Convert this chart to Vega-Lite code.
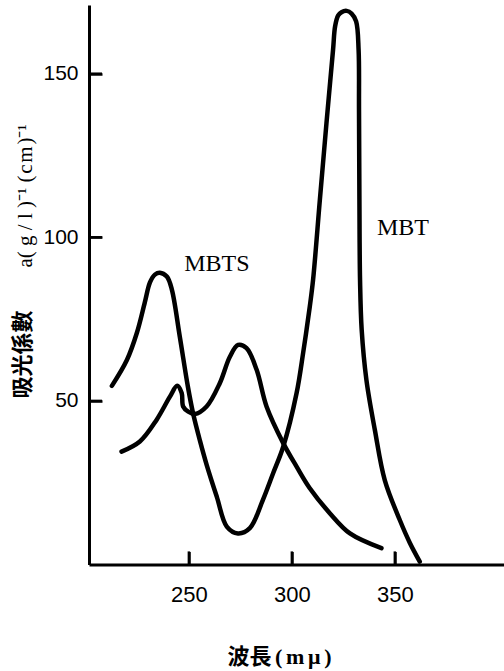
{
  "$schema": "https://vega.github.io/schema/vega-lite/v6.json",
  "autosize": {"type": "none"},
  "padding": {"left": 89, "top": 5, "right": 0, "bottom": 106.5},
  "width": 415,
  "height": 559.5,
  "config": {"view": {"stroke": "transparent"}},
  "resolve": {"axis": {"x": "independent", "y": "independent"}},
  "layer": [
    {
      "data": {"values": [
        {"curve": "MBT", "wl": 212.6, "a": 54.6},
        {"curve": "MBT", "wl": 219.9, "a": 62.5},
        {"curve": "MBT", "wl": 224.8, "a": 70.9},
        {"curve": "MBT", "wl": 228.6, "a": 80.1},
        {"curve": "MBT", "wl": 231.1, "a": 86.2},
        {"curve": "MBT", "wl": 233.5, "a": 88.6},
        {"curve": "MBT", "wl": 235.9, "a": 89.2},
        {"curve": "MBT", "wl": 239.3, "a": 88.0},
        {"curve": "MBT", "wl": 241.7, "a": 84.1},
        {"curve": "MBT", "wl": 245.6, "a": 69.6},
        {"curve": "MBT", "wl": 249.5, "a": 54.4},
        {"curve": "MBT", "wl": 252.0, "a": 46.3},
        {"curve": "MBT", "wl": 255.3, "a": 38.0},
        {"curve": "MBT", "wl": 258.7, "a": 30.3},
        {"curve": "MBT", "wl": 263.6, "a": 20.6},
        {"curve": "MBT", "wl": 268.4, "a": 11.6},
        {"curve": "MBT", "wl": 273.8, "a": 9.5},
        {"curve": "MBT", "wl": 279.6, "a": 11.1},
        {"curve": "MBT", "wl": 285.9, "a": 19.7},
        {"curve": "MBT", "wl": 290.9, "a": 27.9},
        {"curve": "MBT", "wl": 295.8, "a": 36.0},
        {"curve": "MBT", "wl": 302.3, "a": 52.4},
        {"curve": "MBT", "wl": 305.5, "a": 64.8},
        {"curve": "MBT", "wl": 308.7, "a": 78.8},
        {"curve": "MBT", "wl": 310.3, "a": 87.0},
        {"curve": "MBT", "wl": 313.6, "a": 111.5},
        {"curve": "MBT", "wl": 316.8, "a": 134.9},
        {"curve": "MBT", "wl": 320.0, "a": 157.3},
        {"curve": "MBT", "wl": 321.0, "a": 164.5},
        {"curve": "MBT", "wl": 322.5, "a": 167.8},
        {"curve": "MBT", "wl": 324.1, "a": 168.8},
        {"curve": "MBT", "wl": 326.6, "a": 169.2},
        {"curve": "MBT", "wl": 329.0, "a": 168.4},
        {"curve": "MBT", "wl": 331.2, "a": 166.0},
        {"curve": "MBT", "wl": 332.4, "a": 157.3},
        {"curve": "MBT", "wl": 332.6, "a": 139.0},
        {"curve": "MBT", "wl": 332.8, "a": 111.5},
        {"curve": "MBT", "wl": 333.1, "a": 87.0},
        {"curve": "MBT", "wl": 333.9, "a": 71.7},
        {"curve": "MBT", "wl": 336.2, "a": 56.4},
        {"curve": "MBT", "wl": 340.3, "a": 41.1},
        {"curve": "MBT", "wl": 345.1, "a": 25.8},
        {"curve": "MBT", "wl": 352.4, "a": 13.6},
        {"curve": "MBT", "wl": 357.3, "a": 6.6},
        {"curve": "MBT", "wl": 362.1, "a": 0.9},
        {"curve": "MBTS", "wl": 217.3, "a": 34.5},
        {"curve": "MBTS", "wl": 226.2, "a": 37.6},
        {"curve": "MBTS", "wl": 234.3, "a": 44.2},
        {"curve": "MBTS", "wl": 240.8, "a": 51.3},
        {"curve": "MBTS", "wl": 244.3, "a": 54.6},
        {"curve": "MBTS", "wl": 246.5, "a": 52.4},
        {"curve": "MBTS", "wl": 247.2, "a": 48.3},
        {"curve": "MBTS", "wl": 249.7, "a": 46.7},
        {"curve": "MBTS", "wl": 252.9, "a": 46.0},
        {"curve": "MBTS", "wl": 258.6, "a": 48.3},
        {"curve": "MBTS", "wl": 265.0, "a": 55.4},
        {"curve": "MBTS", "wl": 269.9, "a": 63.5},
        {"curve": "MBTS", "wl": 273.9, "a": 67.1},
        {"curve": "MBTS", "wl": 278.0, "a": 66.1},
        {"curve": "MBTS", "wl": 282.9, "a": 59.5},
        {"curve": "MBTS", "wl": 287.7, "a": 48.3},
        {"curve": "MBTS", "wl": 295.8, "a": 37.1},
        {"curve": "MBTS", "wl": 302.3, "a": 29.9},
        {"curve": "MBTS", "wl": 308.7, "a": 23.3},
        {"curve": "MBTS", "wl": 318.4, "a": 15.7},
        {"curve": "MBTS", "wl": 328.2, "a": 9.5},
        {"curve": "MBTS", "wl": 343.5, "a": 5.0}
      ]},
      "mark": {"type": "line", "interpolate": "catmull-rom", "color": "black", "strokeWidth": 4.5, "strokeCap": "round", "strokeJoin": "round"},
      "encoding": {
        "x": {
          "field": "wl", "type": "quantitative",
          "scale": {"domain": [201.5, 403], "nice": false, "zero": false},
          "axis": {
            "orient": "bottom",
            "values": [250, 300, 350],
            "grid": false, "ticks": true,
            "domainColor": "black", "domainWidth": 3,
            "tickColor": "black", "tickWidth": 2.5, "tickSize": -13,
            "labelFont": "Liberation Sans", "labelFontSize": 22, "labelColor": "black",
            "labelPadding": 33, "labelBaseline": "top", "labelFlush": false,
            "title": "波長\u2006(\u2006m\u2006μ\u2006)",
            "titleFont": "Liberation Serif, Noto Sans CJK TC",
            "titleFontSize": 22, "titleFontWeight": "bold", "titleColor": "black",
            "titleX": 190, "titleY": 91.5, "titleAlign": "center", "titleBaseline": "middle", "titleAnchor": null
          }
        },
        "y": {
          "field": "a", "type": "quantitative",
          "scale": {"domain": [0, 171], "nice": false, "zero": true},
          "axis": {
            "orient": "left",
            "values": [50, 100, 150],
            "grid": false, "ticks": true,
            "domainColor": "black", "domainWidth": 3,
            "tickColor": "black", "tickWidth": 2.5, "tickSize": -13,
            "labelFont": "Liberation Sans",
            "labelFontSize": 21, "labelColor": "black",
            "labelPadding": 24, "labelFlush": false,
            "title": "吸光係數",
            "titleFont": "Noto Sans CJK TC",
            "titleFontSize": 22, "titleFontWeight": "bold", "titleColor": "black",
            "titleAngle": -90,
            "titleX": -67, "titleY": 393, "titleAlign": "left", "titleBaseline": "middle", "titleAnchor": null
          }
        },
        "detail": {"field": "curve", "type": "nominal"}
      }
    },
    {
      "data": {"values": [
        {"text": "MBTS", "wl": 263.6, "a": 91.9},
        {"text": "MBT", "wl": 353.9, "a": 102.9}
      ]},
      "mark": {"type": "text", "font": "Liberation Serif", "fontSize": 24, "color": "black", "align": "center", "baseline": "middle"},
      "encoding": {
        "x": {
          "field": "wl", "type": "quantitative",
          "axis": {"orient": "bottom", "grid": false, "domain": false, "labels": false, "ticks": false, "title": null}
        },
        "y": {
          "field": "a", "type": "quantitative",
          "axis": {
            "orient": "left", "grid": false, "domain": false, "labels": false, "ticks": false,
            "title": "a(\u2005g\u2005/\u2005l\u2005)⁻¹ (\u200ac\u200am\u200a)⁻¹",
            "titleFont": "Liberation Serif",
            "titleFontSize": 21, "titleFontWeight": "normal", "titleColor": "black",
            "titleAngle": -90,
            "titleX": -64, "titleY": 262, "titleAlign": "left", "titleBaseline": "middle", "titleAnchor": null
          }
        },
        "text": {"field": "text", "type": "nominal"}
      }
    },
    {
      "data": {"values": [{"wl": 250}, {"wl": 300}, {"wl": 350}]},
      "mark": {"type": "rule", "color": "black", "strokeWidth": 2.5},
      "encoding": {
        "x": {
          "field": "wl", "type": "quantitative",
          "axis": {"orient": "bottom", "grid": false, "domain": false, "labels": false, "ticks": false, "title": null}
        },
        "y": {
          "datum": 0, "type": "quantitative",
          "axis": {"orient": "left", "grid": false, "domain": false, "labels": false, "ticks": false, "title": null}
        },
        "y2": {"datum": 4}
      }
    },
    {
      "data": {"values": [{"a": 50}, {"a": 100}, {"a": 150}]},
      "mark": {"type": "rule", "color": "black", "strokeWidth": 2.5},
      "encoding": {
        "y": {
          "field": "a", "type": "quantitative",
          "axis": {"orient": "left", "grid": false, "domain": false, "labels": false, "ticks": false, "title": null}
        },
        "x": {
          "datum": 201.5, "type": "quantitative",
          "axis": {"orient": "bottom", "grid": false, "domain": false, "labels": false, "ticks": false, "title": null}
        },
        "x2": {"datum": 207.8}
      }
    }
  ]
}
